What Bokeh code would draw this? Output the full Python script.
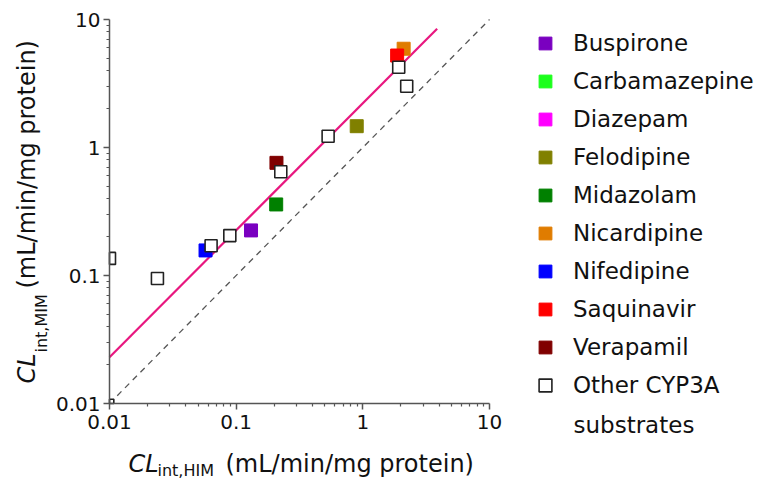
import math
from bokeh.plotting import figure
from bokeh.models import Range1d, FixedTicker, Label, PrintfTickFormatter, Legend, LegendItem
from bokeh.embed import file_html
from bokeh.resources import INLINE

# ---- data ----
drugs = ["Buspirone", "Carbamazepine", "Diazepam", "Felodipine", "Midazolam",
         "Nicardipine", "Nifedipine", "Saquinavir", "Verapamil"]
drug_colors = ["#7a00c0", "#1cff1c", "#ff00ff", "#808000", "#008000",
               "#e07c00", "#0000ff", "#ff0000", "#800000"]
drug_him = [[0.131], [], [], [0.895], [0.207], [2.10], [0.0573], [1.866], [0.208]]
drug_mim = [[0.225], [], [], [1.467], [0.359], [5.91], [0.157], [5.23], [0.759]]

other_label = ["Other CYP3A", "substrates"]
other_him = [0.0097, 0.010, 0.0239, 0.0634, 0.0891, 0.225, 0.532, 1.92, 2.22]
other_mim = [0.0097, 0.136, 0.0948, 0.171, 0.205, 0.646, 1.225, 4.24, 3.01]

fit_him = [0.01, 3.86]
fit_mim = [0.023, 8.46]
unity = [0.01, 10.0]

tick_vals = [0.01, 0.1, 1.0, 10.0]
tick_labels = ["0.01", "0.1", "1", "10"]

FONT = "DejaVu Sans"
W, H = 763, 482
# pixel placement of the axes box (0.01..10 on both axes)
AX_L, AX_R, AX_T, AX_B = 109, 489, 19, 403
LO, HI = 0.01, 10.0

px_x = (AX_R - AX_L) / 3.0
px_y = (AX_B - AX_T) / 3.0
x_rng = Range1d(10 ** (-2 - AX_L / px_x), 10 ** (1 + (W - AX_R) / px_x))
y_rng = Range1d(10 ** (-2 - (H - AX_B) / px_y), 10 ** (1 + AX_T / px_y))

p = figure(width=W, height=H, x_axis_type="log", y_axis_type="log",
           x_range=x_rng, y_range=y_rng, output_backend="svg",
           toolbar_location=None, min_border=0)
p.grid.visible = False
p.outline_line_color = None

minor = [m * 10.0 ** e for e in (-2, -1, 0) for m in range(2, 10)]
for ax in (p.xaxis[0], p.yaxis[0]):
    ax.fixed_location = LO
    ax.bounds = (LO, HI)
    ax.ticker = FixedTicker(ticks=tick_vals, minor_ticks=minor)
    ax.formatter = PrintfTickFormatter(format="%g")
    ax.major_label_overrides = dict(zip(tick_vals, tick_labels))
    ax.axis_line_color = "#555555"
    ax.axis_line_width = 1.5
    ax.major_tick_line_color = "#555555"
    ax.minor_tick_line_color = "#555555"
    ax.major_tick_line_width = 1.5
    ax.minor_tick_line_width = 1.2
    ax.major_tick_in = 0
    ax.major_tick_out = 6
    ax.minor_tick_in = 0
    ax.minor_tick_out = 3
    ax.major_label_text_font = FONT
    ax.major_label_text_font_size = "20px"
    ax.major_label_text_color = "#111111"
p.yaxis[0].major_label_standoff = 3
p.xaxis[0].major_label_standoff = 5

p.line(unity, unity, line_color="#555555", line_width=1.3, line_dash="6 5")
p.line(fit_him, fit_mim, line_color="#e8177f", line_width=2.2)

items = []
for name, col, xs, ys in zip(drugs, drug_colors, drug_him, drug_mim):
    xs_r = xs if xs else [float("nan")]
    ys_r = ys if ys else [float("nan")]
    r = p.scatter(xs_r, ys_r, marker="square", size=13, fill_color=col,
                  line_color=col, line_width=1)
    items.append(LegendItem(label=name, renderers=[r]))

# open squares: those touching the axes are clipped at the axis box like the original
half_x = 6.0 / px_x
half_y = 6.0 / px_y
in_x, in_y, cl_l, cl_r, cl_b, cl_t = [], [], [], [], [], []
for x, y in zip(other_him, other_mim):
    l, r_, b, t = x * 10 ** -half_x, x * 10 ** half_x, y * 10 ** -half_y, y * 10 ** half_y
    if l < LO or b < LO:
        cl_l.append(max(l, LO)); cl_r.append(r_); cl_b.append(max(b, LO)); cl_t.append(t)
    else:
        in_x.append(x); in_y.append(y)
p.quad(left=cl_l, right=cl_r, bottom=cl_b, top=cl_t, fill_color="white",
       line_color="#222222", line_width=1.6)
r_other = p.scatter(in_x, in_y, marker="square", size=12, fill_color="white",
                    line_color="#222222", line_width=1.6)
items.append(LegendItem(label=other_label[0], renderers=[r_other]))

legend = Legend(items=items, location=(529, 81), glyph_width=32, glyph_height=32,
                spacing=6, padding=0, margin=0, label_standoff=12,
                label_text_font=FONT, label_text_font_size="23px",
                label_text_color="#111111",
                border_line_color=None, background_fill_alpha=0)
p.add_layout(legend)

# axis titles built from pieces (italic CL + subscript), in screen pixels
def lab(text, x, y, size, style="normal", angle=0.0):
    p.add_layout(Label(text=text, x=x, y=y, x_units="screen", y_units="screen",
                       angle=angle, text_font=FONT, text_font_size=size,
                       text_font_style=style, text_color="#111111",
                       text_align="left", text_baseline="alphabetic"))

# second line of the last legend label
lab(other_label[1], 573, H - 424, "23px")

lab("CL", 128, H - 463, "24px", "italic")
lab("int,HIM", 157, H - 470, "16px")
lab("(mL/min/mg protein)", 225, H - 463, "24px")

lab("CL", 26, H - 383, "24px", "italic", math.pi / 2)
lab("int,MIM", 41, H - 352, "16px", "normal", math.pi / 2)
lab("(mL/min/mg protein)", 26, H - 288, "24px", "normal", math.pi / 2)

open("out.html", "w").write(file_html(p, INLINE))
